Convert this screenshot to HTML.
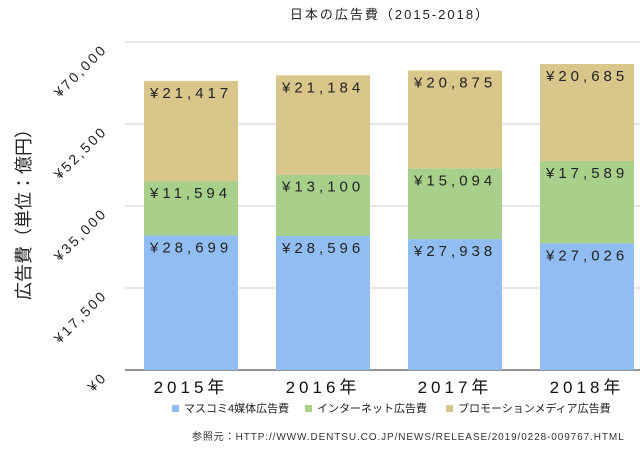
<!DOCTYPE html>
<html><head><meta charset="utf-8"><style>
body{margin:0;background:#fff;}
svg{display:block;font-family:"Liberation Sans","Noto Sans CJK JP",sans-serif;}
</style></head><body>
<svg id="chart" width="640" height="451">
<text x="390" y="19" text-anchor="middle" font-size="13" fill="#222" letter-spacing="2">日本の広告費（2015-2018）</text>
<text transform="translate(30,210) rotate(-90)" text-anchor="middle" font-size="18" fill="#222">広告費（単位：億円）</text>
<g id="grid"></g><g id="bars"></g><g id="xlabels"></g>
<g font-size="11" fill="#222">
<rect x="172" y="405" width="7" height="7" fill="#92bdf3"/>
<text x="184" y="412">マスコミ4媒体広告費</text>
<rect x="305" y="405" width="7" height="7" fill="#a8d08a"/>
<text x="317" y="412">インターネット広告費</text>
<rect x="446" y="405" width="7" height="7" fill="#d9c68a"/>
<text x="458" y="412">プロモーションメディア広告費</text>
</g>
<text x="192" y="440" font-size="10" fill="#333" letter-spacing="0.9">参照元：HTTP://WWW.DENTSU.CO.JP/NEWS/RELEASE/2019/0228-009767.HTML</text>
</svg>
<script>
const categories=["2015年","2016年","2017年","2018年"];
const massMedia=[28699,28596,27938,27026];
const internet=[11594,13100,15094,17589];
const promo=[21417,21184,20875,20685];
const yTicks=[0,17500,35000,52500,70000];
const yTickLabels=["¥0","¥17,500","¥35,000","¥52,500","¥70,000"];
const NS="http://www.w3.org/2000/svg";
const y0=370,y1=42,vmax=70000;
function y(v){return y0-(y0-y1)*v/vmax;}
function x(i){return 144+132*i;}
const bw=94;
function mk(tag,attrs,parent){const e=document.createElementNS(NS,tag);for(const k in attrs)e.setAttribute(k,attrs[k]);parent.appendChild(e);return e;}
const grid=document.getElementById('grid');
yTicks.forEach((t,i)=>{
  const l=mk('line',{x1:125,x2:640,y1:y(t),y2:y(t),stroke:i===0?'#555':'#ccc','stroke-width':i===0?1.2:1},grid);
  
  
  const tx=mk('text',{x:0,y:0,'font-size':14,fill:'#222','text-anchor':'end','letter-spacing':2.5,transform:`translate(108,${y(t)+8}) rotate(-45)`},grid);
  tx.textContent=yTickLabels[i];
  
  
});
const bars=document.getElementById('bars');
const series=[[massMedia,'#92bdf3','mass'],[internet,'#a8d08a','internet'],[promo,'#d9c68a','promo']];
categories.forEach((c,i)=>{
  let base=0;
  series.forEach(([arr,col,nm])=>{
    const v=arr[i];
    const r=mk('rect',{x:x(i),y:y(base+v),width:bw,height:y(base)-y(base+v),fill:col},bars);
    
    
    const t=mk('text',{x:x(i)+6,y:y(base+v)+17,'font-size':15,fill:'#222','letter-spacing':4},bars);
    t.textContent='¥'+v.toLocaleString('en-US');
    
    
    base+=v;
  });
  const xl=mk('text',{x:x(i)+bw/2,y:393,'font-size':17,fill:'#111','text-anchor':'middle','letter-spacing':4},document.getElementById('xlabels'));
  xl.textContent=c;
  
  
});
</script>
</body></html>
